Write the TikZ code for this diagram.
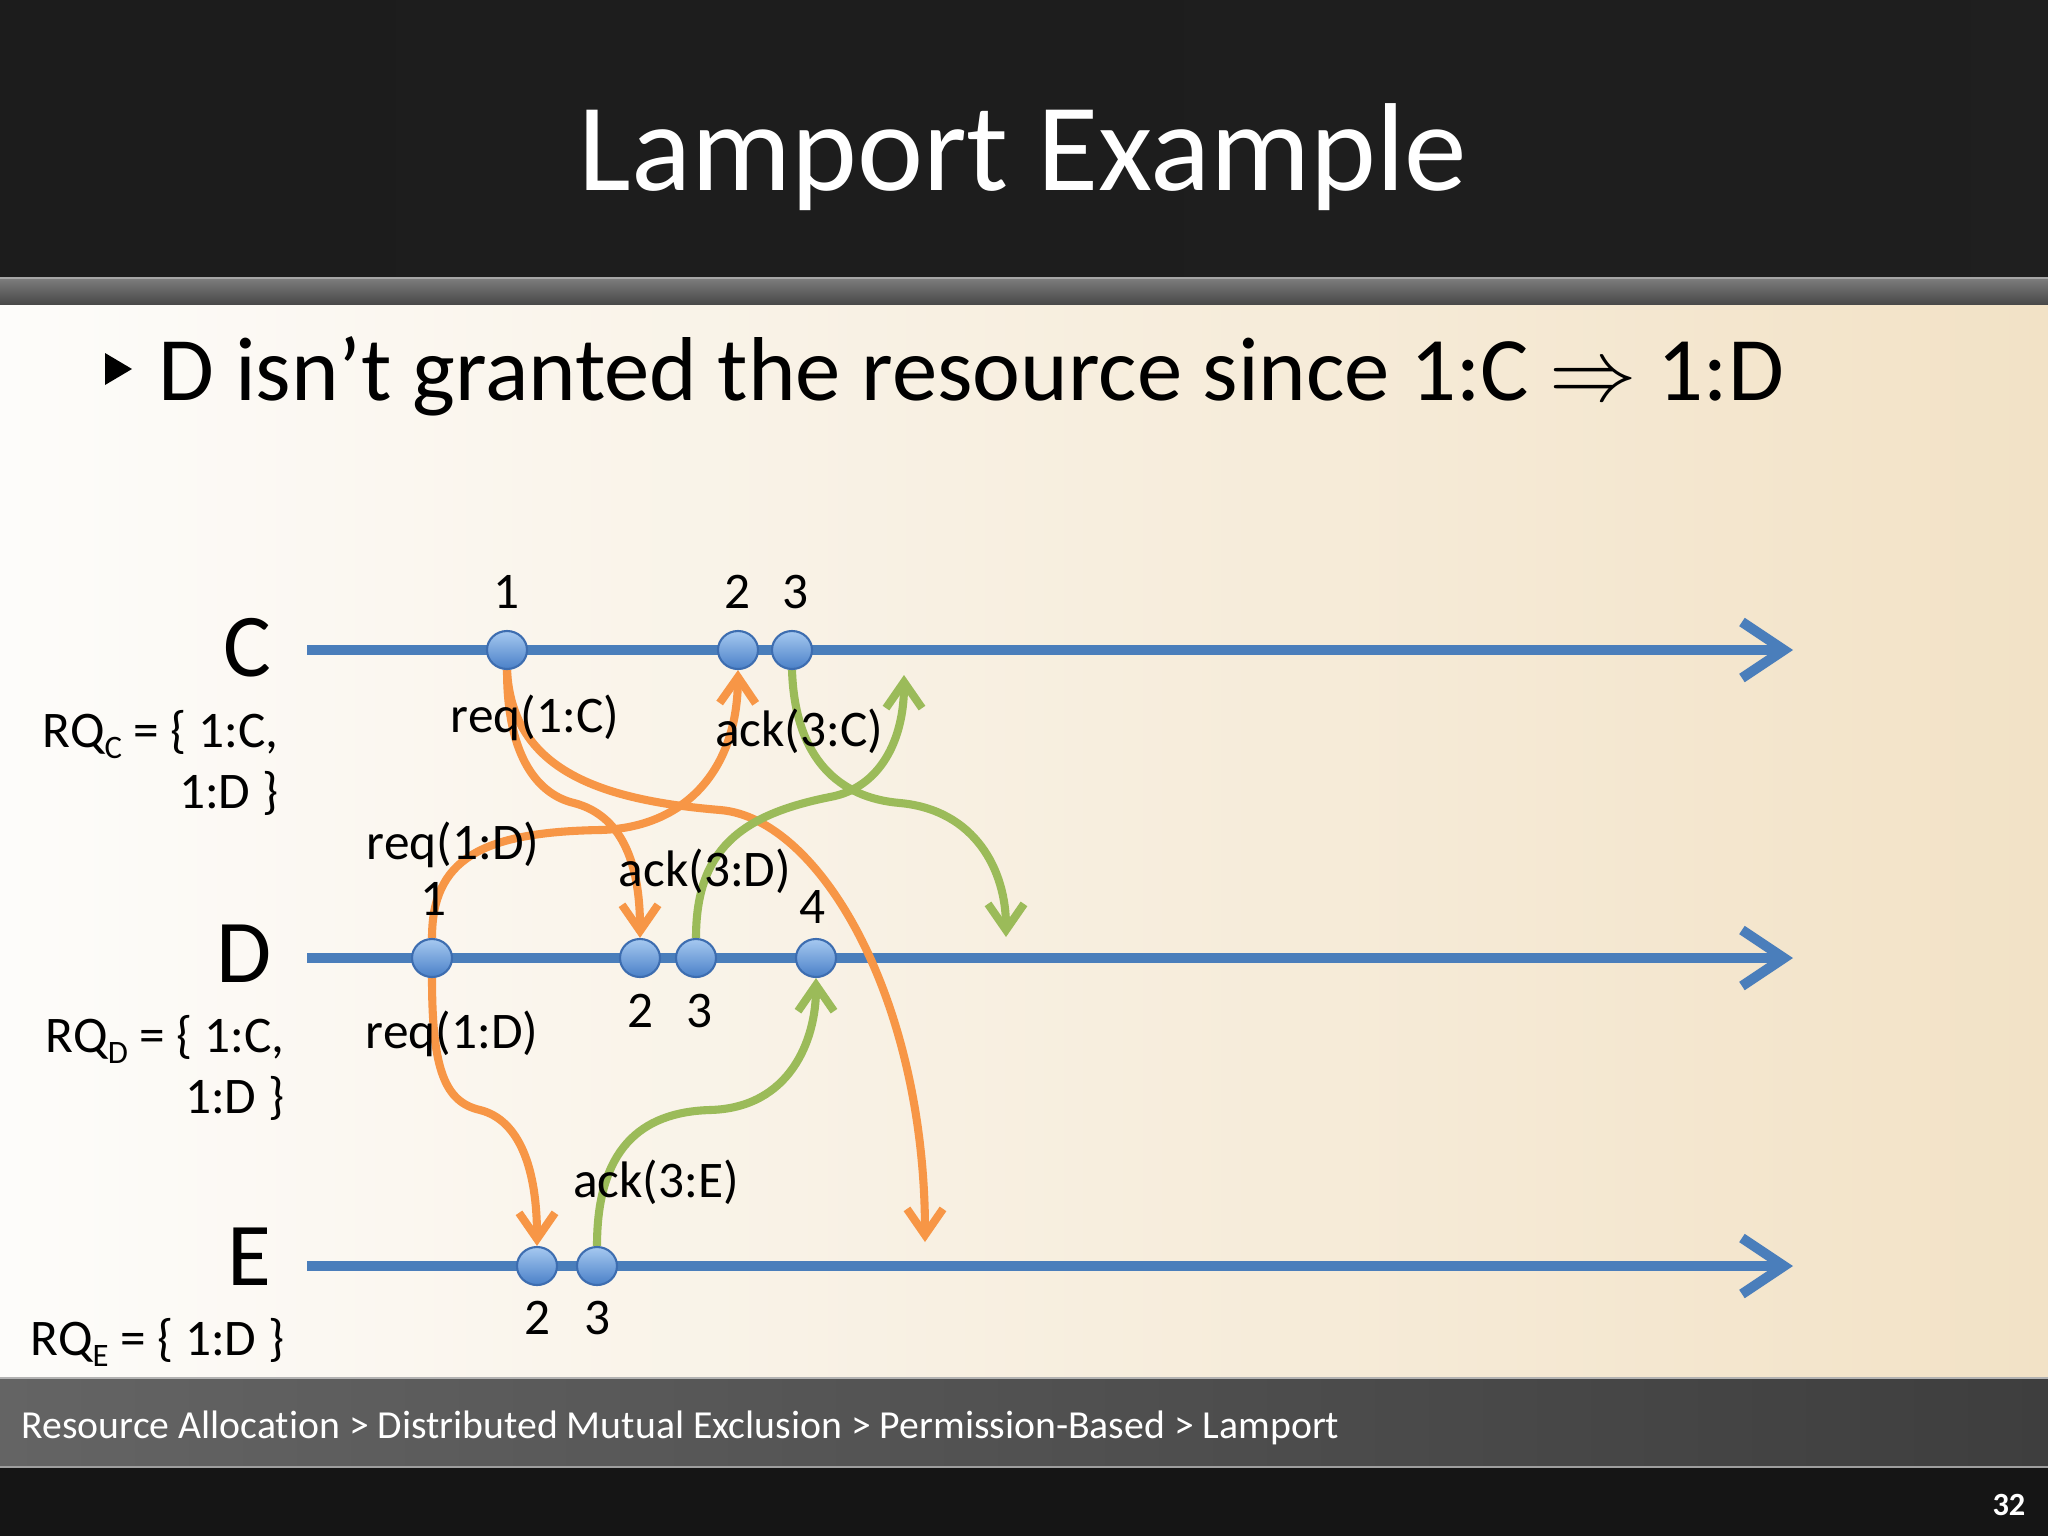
\documentclass[tikz,border=0pt]{standalone}
\usepackage{fontspec}
\setmainfont{Carlito}[Ligatures=NoCommon]
\usetikzlibrary{arrows.meta,shapes.geometric}
\pgfdeclarelayer{bg}
\pgfdeclarelayer{mid}
\pgfsetlayers{bg,mid,main}
\definecolor{tlblue}{HTML}{4A7EBB}
\definecolor{msgorange}{HTML}{F79646}
\definecolor{msggreen}{HTML}{9BBB59}
\definecolor{evtop}{HTML}{A6C9F0}
\definecolor{evbot}{HTML}{4A80C8}
\definecolor{evborder}{HTML}{3D6DB0}
\definecolor{topdark}{HTML}{1C1C1C}
\definecolor{bodyL}{HTML}{FDFCFA}
\definecolor{bodyM}{HTML}{FAF5EC}
\definecolor{bodyR}{HTML}{F2E2C6}
\definecolor{footL}{HTML}{646464}
\definecolor{footR}{HTML}{3E3E3E}
\definecolor{bottomdark}{HTML}{151515}
\newcommand\rqsub[1]{\raisebox{-3.2pt}{\fontsize{9.3}{10}\selectfont #1}}
\begin{document}
\begin{tikzpicture}[x=0.01cm,y=-0.01cm,
  timeline/.style={line width=2.85pt, draw=tlblue,
    -{Straight Barb[length=0.42cm,width=0.56cm]},
    preaction={draw=black, opacity=0.18, transform canvas={shift={(0.02cm,-0.035cm)}}}},
  event/.style={ellipse, minimum width=0.40cm, minimum height=0.38cm, inner sep=0pt,
    draw=evborder, line width=0.6pt, top color=evtop, bottom color=evbot},
  reqarrow/.style={line width=2.3pt, draw=msgorange, -{Straight Barb[length=0.26cm,width=0.36cm]}},
  ackarrow/.style={line width=2.3pt, draw=msggreen, -{Straight Barb[length=0.26cm,width=0.36cm]}},
  lbl/.style={font=\fontsize{14.6}{17.5}\selectfont, inner sep=0pt},
  proc/.style={font=\fontsize{25.5}{30}\selectfont, inner sep=0pt, anchor=base east},
  rq/.style={font=\fontsize{14.6}{17.5}\selectfont, inner sep=0pt, anchor=base east}]

\useasboundingbox (0,0) rectangle (2048,1536);

% ---------- background ----------
\begin{pgfonlayer}{bg}
\fill[left color=topdark, right color=black!88] (0,0) rectangle (2048,277);
\fill[top color=black!50, bottom color=black!72] (0,277) rectangle (2048,305);
\draw[black!35, line width=0.6pt] (0,278) -- (2048,278);
\fill[left color=bodyL, middle color=bodyM, right color=bodyR] (0,305) rectangle (2048,1377);
\fill[left color=footL, right color=footR] (0,1377) rectangle (2048,1468);
\draw[black!30, line width=0.8pt] (0,1378) -- (2048,1378);
\draw[black!38, line width=0.8pt] (0,1467) -- (2048,1467);
\fill[bottomdark] (0,1468) rectangle (2048,1536);

% ---------- timelines ----------
\coordinate (Cs) at (307,650);  \coordinate (Ce) at (1793,650);
\coordinate (Ds) at (307,958);  \coordinate (De) at (1793,958);
\coordinate (Es) at (307,1266); \coordinate (Ee) at (1793,1266);
\draw[timeline] (Cs) -- (Ce);
\draw[timeline] (Ds) -- (De);
\draw[timeline] (Es) -- (Ee);
\end{pgfonlayer}

% ---------- title and bullet ----------
\node[anchor=base, inner sep=0pt, text=white, font=\fontsize{35.6}{40}\selectfont] (title) at (1023,190) {Lamport Example};
\fill[black] (105,353) -- (132,369) -- (105,385) -- cycle;
\node[anchor=base west, inner sep=0pt, font=\fontsize{25.8}{31}\selectfont] (bullet) at (158,400)
  {D isn’t granted the resource since 1:C $\Rightarrow$ 1:D};

% ---------- process names and queues ----------
\node[proc] (Cname) at (272,676) {C};
\node[proc] (Dname) at (272,982) {D};
\node[proc] (Ename) at (272,1285) {E};
\node[rq] (rqc1) at (279,747) {RQ\rqsub{C} = \{ 1:C,};
\node[rq] (rqc2) at (279,808) {1:D \}};
\node[rq] (rqd1) at (285,1052) {RQ\rqsub{D} = \{ 1:C,};
\node[rq] (rqd2) at (285,1113) {1:D \}};
\node[rq] (rqe1) at (285,1355) {RQ\rqsub{E} = \{ 1:D \}};

% ---------- events ----------
\node[event] (C1) at (507,650) {};
\node[event] (C2) at (738,650) {};
\node[event] (C3) at (792,650) {};
\node[event] (D1) at (432,958) {};
\node[event] (D2) at (640,958) {};
\node[event] (D3) at (696,958) {};
\node[event] (D4) at (816,958) {};
\node[event] (E2) at (537,1266) {};
\node[event] (E3) at (597,1266) {};

% ---------- event numbers ----------
\node[lbl] (nC1) at (507,592) {1};
\node[lbl] (nC2) at (738,592) {2};
\node[lbl] (nC3) at (796,592) {3};
\node[lbl] (nD1) at (434,899) {1};
\node[lbl] (nD4) at (813,907) {4};
\node[lbl] (nD2) at (641,1011) {2};
\node[lbl] (nD3) at (700,1011) {3};
\node[lbl] (nE2) at (538,1318) {2};
\node[lbl] (nE3) at (598,1318) {3};

% ---------- free ends ----------
\coordinate (c1end) at (925,1242);
\coordinate (c3end) at (1006,937);
\coordinate (d3end) at (904,675);

% ---------- messages ----------
\begin{pgfonlayer}{mid}
\draw[reqarrow] (C1.south) .. controls (507,760) and (540,795) .. (574,803)
                 .. controls (620,815) and (640,860) .. (D2.north);
\draw[reqarrow] (C1.south) .. controls (512,770) and (600,800) .. (720,810)
                 .. controls (820,818) and (925,1000) .. (c1end);
\draw[reqarrow] (D1.north) .. controls (432,860) and (480,832) .. (600,830)
                 .. controls (685,828) and (737,770) .. (C2.south);
\draw[reqarrow] (D1.south) .. controls (432,1070) and (445,1102) .. (480,1110)
                 .. controls (520,1120) and (537,1170) .. (E2.north);
\draw[ackarrow] (C3.south) .. controls (795,760) and (840,798) .. (900,803)
                 .. controls (975,810) and (1006,870) .. (c3end);
\draw[ackarrow] (D3.north) .. controls (696,850) and (740,815) .. (830,797)
                 .. controls (880,788) and (904,740) .. (d3end);
\draw[ackarrow] (E3.north) .. controls (597,1150) and (640,1112) .. (710,1110)
                 .. controls (790,1108) and (816,1040) .. (D4.south);
\end{pgfonlayer}

% ---------- message labels ----------
\node[lbl] (lreqC) at (535,718) {req(1:C)};
\node[lbl] (lackC) at (799,731) {ack(3:C)};
\node[lbl] (lreqD1) at (453,845) {req(1:D)};
\node[lbl] (lackD) at (705,871) {ack(3:D)};
\node[lbl] (lreqD2) at (452,1034) {req(1:D)};
\node[lbl] (lackE) at (656,1182) {ack(3:E)};

% ---------- footer ----------
\node[anchor=base west, inner sep=0pt, text=white, font=\fontsize{11.3}{13}\selectfont] (crumbs) at (21,1438)
  {Resource Allocation > Distributed Mutual Exclusion > Permission-Based > Lamport};
\node[anchor=base east, inner sep=0pt, text=white, font=\bfseries\fontsize{9.2}{11}\selectfont] (pageno) at (2026,1515) {32};
\end{tikzpicture}
\end{document}
